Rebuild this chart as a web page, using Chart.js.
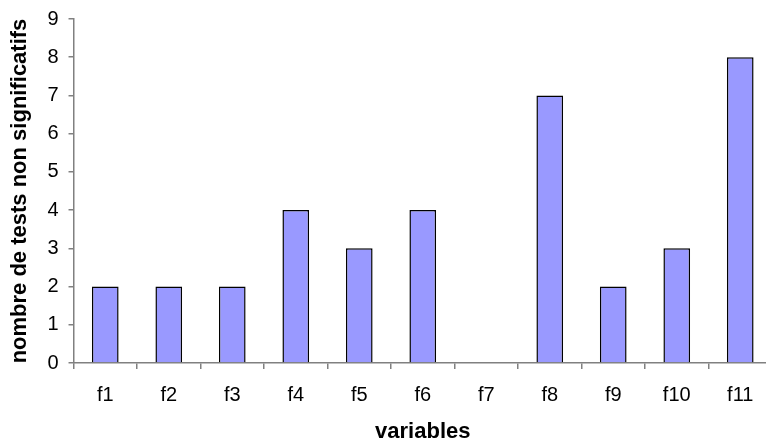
<!DOCTYPE html>
<html>
<head>
<meta charset="utf-8">
<script src="https://cdn.jsdelivr.net/npm/chart.js@4/dist/chart.umd.min.js"></script>
<style>
html,body{margin:0;padding:0;background:#fff;overflow:hidden;width:766px;height:445px;}
#wrap{width:790px;height:445px;}
</style>
</head>
<body>
<div id="wrap"><canvas id="c" width="790" height="445"></canvas></div>
<script>
const categories = ["f1","f2","f3","f4","f5","f6","f7","f8","f9","f10","f11"];
const values = [2,2,2,4,3,4,0,7,2,3,8];
const yTicks = [0,1,2,3,4,5,6,7,8,9];
const xTitle = "variables";
const yTitle = "nombre de tests non significatifs";

const FONT = "'Liberation Sans', Arial, sans-serif";
new Chart(document.getElementById('c'), {
  type: 'bar',
  data: {
    labels: categories,
    datasets: [{
      data: values,
      backgroundColor: '#9999FF',
      borderColor: '#000000',
      borderWidth: 1.5,
      barPercentage: 0.42,
      categoryPercentage: 1.0
    }]
  },
  options: {
    responsive: false,
    animation: false,
    devicePixelRatio: 1,
    layout: { padding: { top: 0, right: 18, bottom: 2, left: 7 } },
    plugins: { legend: { display: false }, tooltip: { enabled: false } },
    scales: {
      x: {
        grid: { display: true, drawOnChartArea: false, offset: true, tickLength: 6, color: '#808080', lineWidth: 1.5 },
        border: { display: true, color: '#808080', width: 1.5 },
        ticks: { color: '#000', font: { family: FONT, size: 20, lineHeight: 1.0 }, padding: 16 },
        title: { display: true, text: xTitle, color: '#000', font: { family: FONT, size: 22, weight: 'bold', lineHeight: 1.0 }, padding: { top: 0, bottom: 0 } }
      },
      y: {
        min: 0, max: 9,
        afterBuildTicks: (axis) => { axis.ticks = yTicks.map(v => ({ value: v })); },
        grid: { display: true, drawOnChartArea: false, tickLength: 5, color: '#808080', lineWidth: 1.5 },
        border: { display: true, color: '#808080', width: 1.5 },
        ticks: { color: '#000', font: { family: FONT, size: 20, lineHeight: 0.9 }, padding: 10 },
        title: { display: true, text: yTitle, color: '#000', font: { family: FONT, size: 22, weight: 'bold' }, padding: { top: 0, bottom: 4 } }
      }
    }
  }
});
</script>
</body>
</html>
